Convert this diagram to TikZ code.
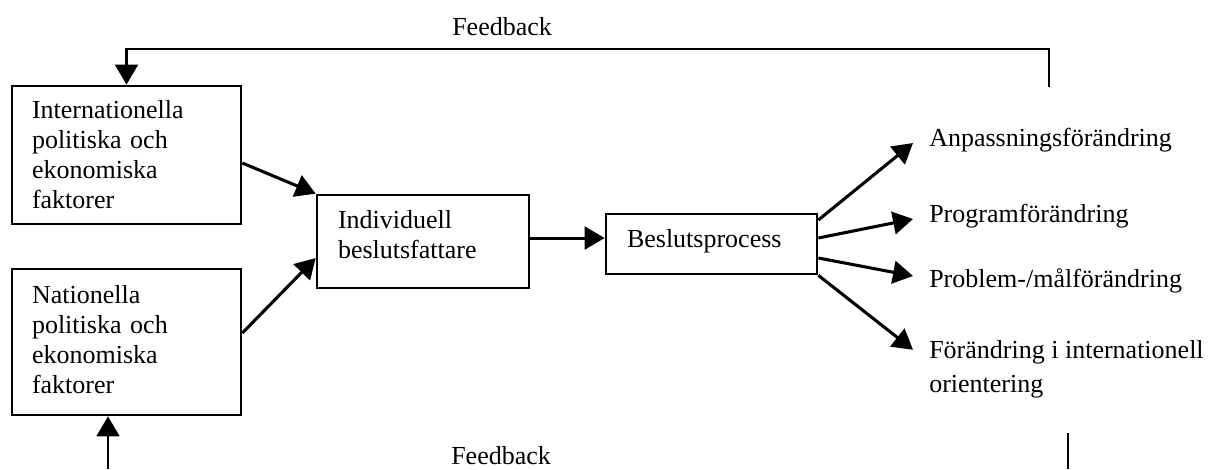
\documentclass[tikz,border=0pt]{standalone}
\usepackage{fontspec}
\setmainfont{Liberation Serif}
\usetikzlibrary{arrows.meta}
% invisible strut that only adds depth below the last line
\newcommand{\padbelow}[1]{\rule[-#1]{0pt}{#1}}
\tikzset{
  box/.style={draw, line width=2pt, align=left},
  conn/.style={line width=2.3pt, -{Triangle[length=15pt,width=17pt]}},
  fbline/.style={line width=2.2pt},
  fbarrow/.style={line width=2.2pt, -{Triangle[length=15pt,width=17pt]}},
  outlabel/.style={inner sep=0pt, align=left},
}
\begin{document}
\begin{tikzpicture}[x=0.75pt, y=-0.75pt, font=\fontsize{19.5pt}{22.5pt}\selectfont]
\useasboundingbox (0,0) rectangle (1213,469);

% input factors
\node[box, text width=141.75pt, inner xsep=15pt, minimum height=103.5pt]
  (b1) at (126.5,155) {Internationella\\politiska och\\ekonomiska\\faktorer};
\node[box, text width=141.75pt, inner xsep=15pt, minimum height=109.5pt]
  (b2) at (126.5,342) {Nationella\\politiska och\\ekonomiska\\faktorer\padbelow{4.5pt}};

% decision maker and process
\node[box, text width=127.5pt, inner xsep=15.75pt, minimum height=69.75pt]
  (ind) at (423,241.5) {Individuell\\beslutsfattare\padbelow{11pt}};
\node[box, text width=126.75pt, inner xsep=15.75pt, minimum height=45pt]
  (bes) at (711.5,244) {Beslutsprocess\padbelow{8.7pt}};

% outcomes
\node[outlabel, anchor=base west] (o1) at (929,146) {Anpassningsförändring};
\node[outlabel, anchor=base west] (o2) at (929,222) {Programförändring};
\node[outlabel, anchor=base west] (o3) at (929,287) {Problem-/målförändring};
\node[outlabel, anchor=north west, font=\fontsize{19.5pt}{25.5pt}\selectfont]
  (o4) at (929,340) {Förändring i internationell\\orientering};

% feedback labels
\node[outlabel, anchor=base west] (fbt) at (452,35) {Feedback};
\node[outlabel, anchor=base west] (fbb) at (451,464) {Feedback};

% flow arrows
\draw[conn] ([yshift=-6pt]b1.east) -- (ind.north west);
\draw[conn] ([yshift=6.75pt]b2.east) -- ([yshift=-12.4pt]ind.west);
\draw[conn] ([yshift=2.6pt]ind.east) -- ([yshift=2.6pt]ind.east -| bes.west);
\draw[conn] ([yshift=18pt]bes.east) -- ([shift={(-12pt,2.25pt)}]o1.base west);
\draw[conn] ([yshift=4.5pt]bes.east) -- ([shift={(-12pt,2.25pt)}]o2.base west);
\draw[conn] ([yshift=-10.5pt]bes.east) -- ([shift={(-12pt,8.25pt)}]o3.base west);
\draw[conn] (bes.south east) -- ([shift={(-12pt,-7.35pt)}]o4.north west);

% feedback loops
\coordinate (fbA) at (1049,87);
\coordinate (fbC) at (1049,49);
\draw[fbarrow] (fbA) -- (fbC) -| (b1.north);

\coordinate (fbR1) at (1068,433);
\coordinate (fbR2) at (1068,469);
\draw[fbline, line width=1.7pt] (fbR1) -- (fbR2);

\coordinate (fbB) at (108,469);
\draw[fbarrow] (fbB) -- (fbB |- b2.south);
\end{tikzpicture}
\end{document}
